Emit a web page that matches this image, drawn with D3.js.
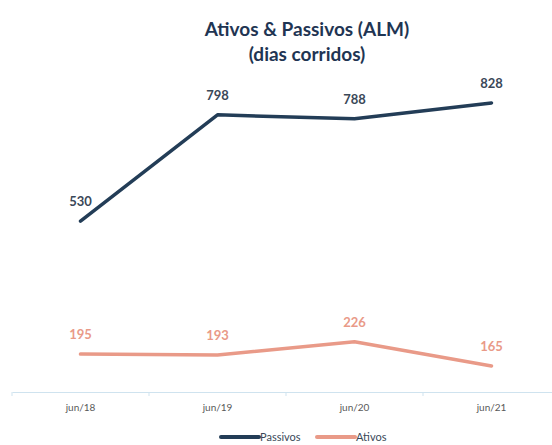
<!DOCTYPE html>
<html>
<head>
<meta charset="utf-8">
<script src="https://cdn.jsdelivr.net/npm/d3@7"></script>
<style>
  body { margin: 0; background: #fff; }
  svg { display: block; font-family: Lato, "Open Sans", sans-serif; }
</style>
</head>
<body>
<svg></svg>
<script>
let categories = ["jun/18", "jun/19", "jun/20", "jun/21"];
let passivos = [530, 798, 788, 828];
let ativos = [195, 193, 226, 165];
let seriesNames = ["Passivos", "Ativos"];

let width = 552;
let height = 445;

let colors = { Passivos: "#233d57", Ativos: "#e99a88" };
let labelColors = { Passivos: "#3a4858", Ativos: "#e99a88" };

let svg = d3.select("svg").attr("width", width).attr("height", height);

// title
svg.append("text")
    .attr("x", 307).attr("y", 36)
    .attr("text-anchor", "middle")
    .attr("font-size", 19).attr("font-weight", "bold")
    .attr("fill", "#1f3553")
    .text("Ativos & Passivos (ALM)");
svg.append("text")
    .attr("x", 307).attr("y", 61)
    .attr("text-anchor", "middle")
    .attr("font-size", 19).attr("font-weight", "bold")
    .attr("fill", "#1f3553")
    .text("(dias corridos)");

// scales
let xScale = d3.scaleBand().domain(categories).range([12, 560]);
let yScale = d3.scaleLinear().domain([0, 1000]).range([431.5, 34.7]);
let cx = c => xScale(c) + xScale.bandwidth() / 2;

// x axis
let axisY = 392;
let xAxis = d3.axisBottom(xScale).tickSize(0).tickPadding(12);
let gx = svg.append("g")
    .attr("transform", "translate(0," + axisY + ")")
    .call(xAxis);
gx.select(".domain").attr("stroke", "#cfe3ef").attr("stroke-width", 1);
gx.selectAll("text")
    .attr("font-size", 10)
    .attr("font-family", "Lato, sans-serif")
    .attr("fill", "#595959");

// tick marks between categories
gx.selectAll(".sep")
    .data(categories)
    .enter()
    .append("line")
    .attr("class", "sep")
    .attr("x1", c => xScale(c)).attr("x2", c => xScale(c))
    .attr("y1", 0).attr("y2", 4)
    .attr("stroke", "#cfe3ef");

// lines
let line = d3.line()
    .x(d => cx(d.cat))
    .y(d => yScale(d.value));

let series = [
    { name: "Passivos", values: passivos },
    { name: "Ativos", values: ativos }
];

series.forEach(s => {
    let pts = s.values.map((v, i) => ({ cat: categories[i], value: v }));
    svg.append("path")
        .datum(pts)
        .attr("fill", "none")
        .attr("stroke", colors[s.name])
        .attr("stroke-width", 3.5)
        .attr("stroke-linejoin", "round")
        .attr("stroke-linecap", "round")
        .attr("d", line);

    svg.selectAll(".lbl-" + s.name)
        .data(pts)
        .enter()
        .append("text")
        .attr("x", d => cx(d.cat))
        .attr("y", d => yScale(d.value) - 15)
        .attr("text-anchor", "middle")
        .attr("font-size", 13)
        .attr("font-weight", "bold")
        .attr("fill", labelColors[s.name])
        .text(d => d.value);
});

// legend
let legendX = [221, 317];
seriesNames.forEach((name, i) => {
    let g = svg.append("g").attr("transform", "translate(" + legendX[i] + ",437)");
    g.append("line")
        .attr("x1", 0).attr("x2", 38)
        .attr("y1", 0).attr("y2", 0)
        .attr("stroke", colors[name])
        .attr("stroke-width", 4)
        .attr("stroke-linecap", "round");
    g.append("text")
        .attr("x", 39).attr("y", 4)
        .attr("font-size", 11)
        .attr("fill", "#3a4858")
        .text(name);
});
</script>
</body>
</html>
